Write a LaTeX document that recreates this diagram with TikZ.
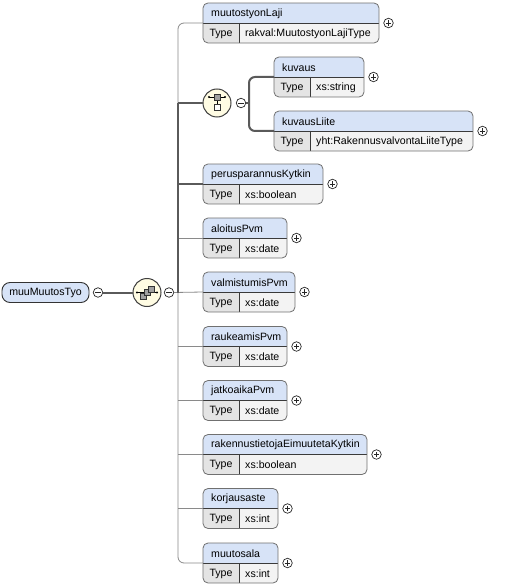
\documentclass[tikz,border=0pt]{standalone}
\usepackage{fontspec}
\setmainfont{Liberation Sans}
\usetikzlibrary{calc}
\definecolor{hdrfill}{HTML}{D7E3F7}
\definecolor{typefill}{HTML}{E4E4E4}
\definecolor{valfill}{HTML}{F3F3F3}
\definecolor{boxline}{HTML}{707070}
\definecolor{divcol}{HTML}{3A3A3A}
\definecolor{thincol}{HTML}{8A8A8A}
\definecolor{thickcol}{HTML}{5A5A5A}
\definecolor{iconfill}{HTML}{FFFCE3}
\definecolor{sqfill}{HTML}{A0A0A0}
\tikzset{
  elembox/.style={draw=boxline, line width=0.8pt, rounded corners=5pt, inner sep=0pt, outer sep=0pt, minimum height=40pt, anchor=north west},
  lbl/.style={inner sep=0pt, font=\fontsize{10.6}{12}\selectfont, text=black},
  divline/.style={draw=divcol, line width=0.7pt},
  pmc/.style={circle, draw=black!85, fill=white, line width=0.7pt, minimum size=9.5pt, inner sep=0pt},
  plusc/.style={pmc, path picture={\draw[line width=0.8pt] ([xshift=-2.6pt]path picture bounding box.center) -- ([xshift=2.6pt]path picture bounding box.center) ([yshift=-2.6pt]path picture bounding box.center) -- ([yshift=2.6pt]path picture bounding box.center);}},
  minusc/.style={pmc, path picture={\draw[line width=0.8pt] ([xshift=-2.6pt]path picture bounding box.center) -- ([xshift=2.6pt]path picture bounding box.center);}},
  conn/.style={draw=thincol, line width=0.8pt},
  thk/.style={draw=thickcol, line width=2pt},
  iconc/.style={circle, draw=black!75, fill=iconfill, line width=1pt, minimum size=28pt, inner sep=0pt},
  rootbox/.style={draw=black!80, fill=hdrfill, line width=0.9pt, rounded corners=8pt, minimum width=87pt, minimum height=20pt, inner sep=0pt, font=\fontsize{10.6}{12}\selectfont},
  sq/.style={draw=black!80, line width=0.6pt},
}
% #1 name, #2 x, #3 top y, #4 width, #5 label, #6 type
\newcommand\xelem[6]{%
  \begin{scope}
    \clip[rounded corners=5pt] (#2,#3) rectangle ++(#4,40);
    \fill[hdrfill] (#2,#3) rectangle ++(#4,20);
    \fill[typefill] (#2,#3+20) rectangle ++(36,20);
    \fill[valfill] (#2+36,#3+20) rectangle ++(#4-36,20);
  \end{scope}
  \draw[divline] (#2,#3+20) -- ++(#4,0);
  \draw[divline] (#2+36,#3+20) -- ++(0,20);
  \node[elembox, minimum width=#4pt] (#1) at (#2,#3) {};
  \node[lbl, anchor=west] (#1l) at (#2+8,#3+10.5) {#5};
  \node[lbl] (#1t) at (#2+18,#3+30.5) {Type};
  \node[lbl, anchor=west] (#1v) at (#2+42,#3+30.5) {#6};
  \node[plusc] (#1p) at ([xshift=9.5pt]#1.east) {};
}
\begin{document}
\begin{tikzpicture}[x=1pt,y=-1pt]
\useasboundingbox[fill=white] (0,0) rectangle (505,588);

% elements
\xelem{mlaji}{203}{3}{176}{muutostyonLaji}{rakval:MuutostyonLajiType}
\xelem{kuvaus}{274}{57}{90}{kuvaus}{xs:string}
\xelem{kliite}{274}{111}{199}{kuvausLiite}{yht:RakennusvalvontaLiiteType}
\xelem{perus}{203}{164}{120}{perusparannusKytkin}{xs:boolean}
\xelem{aloitus}{203}{218}{84}{aloitusPvm}{xs:date}
\xelem{valm}{203}{272}{92}{valmistumisPvm}{xs:date}
\xelem{rauk}{203}{326.5}{84}{raukeamisPvm}{xs:date}
\xelem{jatko}{203}{380.5}{84}{jatkoaikaPvm}{xs:date}
\xelem{rak}{203}{434.5}{164}{rakennustietojaEimuutetaKytkin}{xs:boolean}
\xelem{korj}{203}{488.5}{75}{korjausaste}{xs:int}
\xelem{mala}{203}{543}{75}{muutosala}{xs:int}

% root
\node[rootbox] (root) at (45.5,292.5) {muuMuutosTyo};
\node[minusc] (rminus) at (98,292.5) {};

% sequence icon
\node[iconc] (seq) at (147,292.5) {};
\node[minusc] (sminus) at (169,292.5) {};

% choice icon
\node[iconc] (choice) at (217,103) {};
\node[minusc] (cminus) at (241,103) {};

% coordinates of the bus
\coordinate (b1) at (178,103);
\coordinate (b2) at (178,292.5);
\coordinate (bb) at (178,563);
\coordinate (cb) at (249,103);

% thin connectors
\draw[conn, rounded corners=6pt] (mlaji.west) -| (bb) -- (mala.west);
\foreach \n in {aloitus,rauk,jatko,rak,korj}{
  \draw[conn] (\n.west) -- (\n.west -| b1);
}
\draw[conn] (sminus.east) -- (valm.west);

% thick connectors
\draw[thk] (b1) -- (b2);
\draw[thk] (b1) -- (choice.west);
\draw[thk] (perus.west) -- (perus.west -| b1);
\draw[thk] (rminus.east) -- (seq.west);
\draw[thk] (cminus.east) -- (cb);
\draw[thk, rounded corners=6pt] (kuvaus.west) -| (cb) |- (kliite.west);

% sequence icon internals
\draw[line width=0.7pt] ([xshift=-10pt]seq.center) -- ([xshift=10pt]seq.center);
\fill ([xshift=-10pt]seq.center) circle (1.1pt);
\fill ([xshift=10pt]seq.center) circle (1.1pt);
\foreach \dx/\dy in {-4/3.5, 0/0, 4/-3.5}{
  \draw[sq, fill=sqfill] ($(seq.center)+(\dx-3,\dy-3)$) rectangle ++(6,6);
}

% choice icon internals
\draw[line width=0.7pt] ($(choice.center)+(-8,-6)$) -- ($(choice.center)+(8,-6)$);
\fill ($(choice.center)+(-8,-6)$) circle (1.1pt);
\fill ($(choice.center)+(8,-6)$) circle (1.1pt);
\draw[line width=0.7pt] ($(choice.center)+(0,-6)$) -- ($(choice.center)+(0,1)$);
\draw[sq, fill=sqfill] ($(choice.center)+(-3,-9)$) rectangle ++(6,6);
\draw[sq, fill=white] ($(choice.center)+(-3,1)$) rectangle ++(6,6);
\end{tikzpicture}
\end{document}
